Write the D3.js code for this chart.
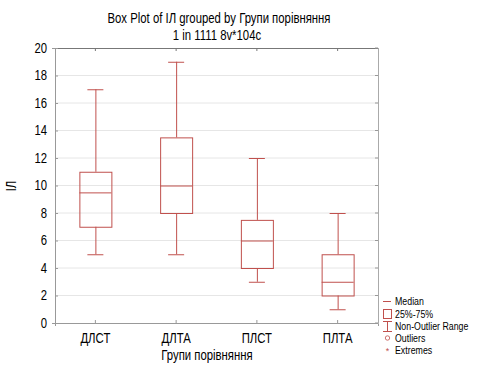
<!DOCTYPE html>
<html><head><meta charset="utf-8">
<script src="https://cdn.jsdelivr.net/npm/d3@7"></script>
<style>
body{margin:0;background:#fff;}
text{font-family:"Liberation Sans",Arial,sans-serif;fill:#000;}
</style></head><body>
<svg id="c" width="477" height="378"></svg>
<script>
const categories = ["ДЛСТ","ДЛТА","ПЛСТ","ПЛТА"];
const whiskerLow = [5,5,3,1];
const q1 = [7,8,4,2];
const median = [9.5,10,6,3];
const q3 = [11,13.5,7.5,5];
const whiskerHigh = [17,19,12,8];
const yTicks = [0,2,4,6,8,10,12,14,16,18,20];
const legendItems = ["Median","25%-75%","Non-Outlier Range","Outliers","Extremes"];

const data = categories.map((c,i)=>({c,lo:whiskerLow[i],q1:q1[i],med:median[i],q3:q3[i],hi:whiskerHigh[i]}));
const svg = d3.select("#c");
const L=55,R=378,T=48,B=323;
const red="#c0504d";
const x = d3.scaleBand().domain(categories).range([L,R]).padding(0);
const y = d3.scaleLinear().domain([0,20]).range([B,T]);

// gridlines
svg.append("g").selectAll("line").data(yTicks.filter(t=>t>0&&t<20)).join("line")
  .attr("x1",L).attr("x2",R).attr("y1",d=>y(d)).attr("y2",d=>y(d))
  .attr("stroke","#e6e6e6").attr("stroke-width",1);

// frame
svg.append("line").attr("x1",L).attr("x2",R).attr("y1",T+0.5).attr("y2",T+0.5).attr("stroke","#777");
svg.append("line").attr("x1",R+0.5).attr("x2",R+0.5).attr("y1",T).attr("y2",B).attr("stroke","#aaa");
svg.append("g").selectAll("line").data(categories).join("line")
  .attr("x1",d=>x(d)+x.bandwidth()/2).attr("x2",d=>x(d)+x.bandwidth()/2)
  .attr("y1",T).attr("y2",T+3).attr("stroke","#777");
svg.append("g").selectAll("line").data(yTicks).join("line")
  .attr("x1",R-3).attr("x2",R).attr("y1",d=>y(d)).attr("y2",d=>y(d)).attr("stroke","#999");

// axes
const ya = svg.append("g").attr("transform",`translate(${L},0)`)
  .call(d3.axisLeft(y).tickValues(yTicks).tickSize(3).tickPadding(5));
ya.select(".domain").attr("stroke","#999");
ya.selectAll(".tick line").attr("stroke","#999").attr("x2",3);
ya.selectAll("text").style("font-size","14px");

const xa = svg.append("g").attr("transform",`translate(0,${B})`)
  .call(d3.axisBottom(x).tickSize(3).tickPadding(7));
xa.select(".domain").attr("stroke","#999");
xa.selectAll(".tick line").attr("stroke","#999").attr("y1",-3).attr("y2",0);
xa.selectAll("text").style("font-size","14px");

// boxes
const g = svg.append("g").selectAll("g").data(data).join("g")
  .attr("transform",d=>`translate(${x(d.c)+x.bandwidth()/2},0)`);
const bw=32, cw=16;
g.append("line").attr("x1",0.5).attr("x2",0.5).attr("y1",d=>y(d.hi)).attr("y2",d=>y(d.q3)).attr("stroke",red);
g.append("line").attr("x1",0.5).attr("x2",0.5).attr("y1",d=>y(d.q1)).attr("y2",d=>y(d.lo)).attr("stroke",red);
g.append("line").attr("x1",-cw/2).attr("x2",cw/2).attr("y1",d=>y(d.hi)+0.5).attr("y2",d=>y(d.hi)+0.5).attr("stroke",red);
g.append("line").attr("x1",-cw/2).attr("x2",cw/2).attr("y1",d=>y(d.lo)+0.5).attr("y2",d=>y(d.lo)+0.5).attr("stroke",red);
g.append("rect").attr("x",-bw/2+0.5).attr("width",bw).attr("y",d=>y(d.q3)+0.5).attr("height",d=>y(d.q1)-y(d.q3))
  .attr("fill","none").attr("stroke",red);
g.append("line").attr("x1",-bw/2).attr("x2",bw/2).attr("y1",d=>y(d.med)+0.5).attr("y2",d=>y(d.med)+0.5).attr("stroke",red);

// titles
svg.append("text").attr("x",219).attr("y",23).attr("text-anchor","middle").style("font-size","14px")
  .text("Box Plot of ІЛ grouped by Групи порівняння");
svg.append("text").attr("x",217).attr("y",40).attr("text-anchor","middle").style("font-size","14px")
  .text("1 in 1111 8v*104c");
svg.append("text").attr("transform","translate(16,186) rotate(-90)").attr("text-anchor","middle").style("font-size","14px").text("ІЛ");
svg.append("text").attr("x",207).attr("y",360).attr("text-anchor","middle").style("font-size","14px").text("Групи порівняння");

// condense texts to match the narrow reference font
function condense(sel,f){
  sel.each(function(){
    const w=this.getComputedTextLength();
    this.setAttribute("textLength",(w*f).toFixed(1));
    this.setAttribute("lengthAdjust","spacingAndGlyphs");
  });
}
condense(svg.selectAll("text"),0.81);

// legend
const lg = svg.append("g");
const ly = [301,314,326,338,350];
const lt = lg.selectAll("text").data(legendItems).join("text")
  .attr("x",395).attr("y",(d,i)=>ly[i]+4).style("font-size","10px").text(d=>d);
condense(lt,0.88);

lg.append("line").attr("x1",383).attr("x2",391).attr("y1",ly[0]+0.5).attr("y2",ly[0]+0.5).attr("stroke",red);
lg.append("rect").attr("x",383.5).attr("y",ly[1]-4.5).attr("width",8).attr("height",9).attr("fill","none").attr("stroke",red);
lg.append("line").attr("x1",387.5).attr("x2",387.5).attr("y1",ly[2]-5).attr("y2",ly[2]+6).attr("stroke",red);
lg.append("line").attr("x1",383).attr("x2",392).attr("y1",ly[2]-4.5).attr("y2",ly[2]-4.5).attr("stroke",red);
lg.append("line").attr("x1",383).attr("x2",392).attr("y1",ly[2]+5.5).attr("y2",ly[2]+5.5).attr("stroke",red);
lg.append("circle").attr("cx",387.5).attr("cy",ly[3]).attr("r",2.2).attr("fill","none").attr("stroke",red).attr("stroke-width",0.8);
lg.append("text").attr("x",387.5).attr("y",ly[4]+4).attr("text-anchor","middle").style("font-size","9px").style("fill",red).text("*");
</script></body></html>
